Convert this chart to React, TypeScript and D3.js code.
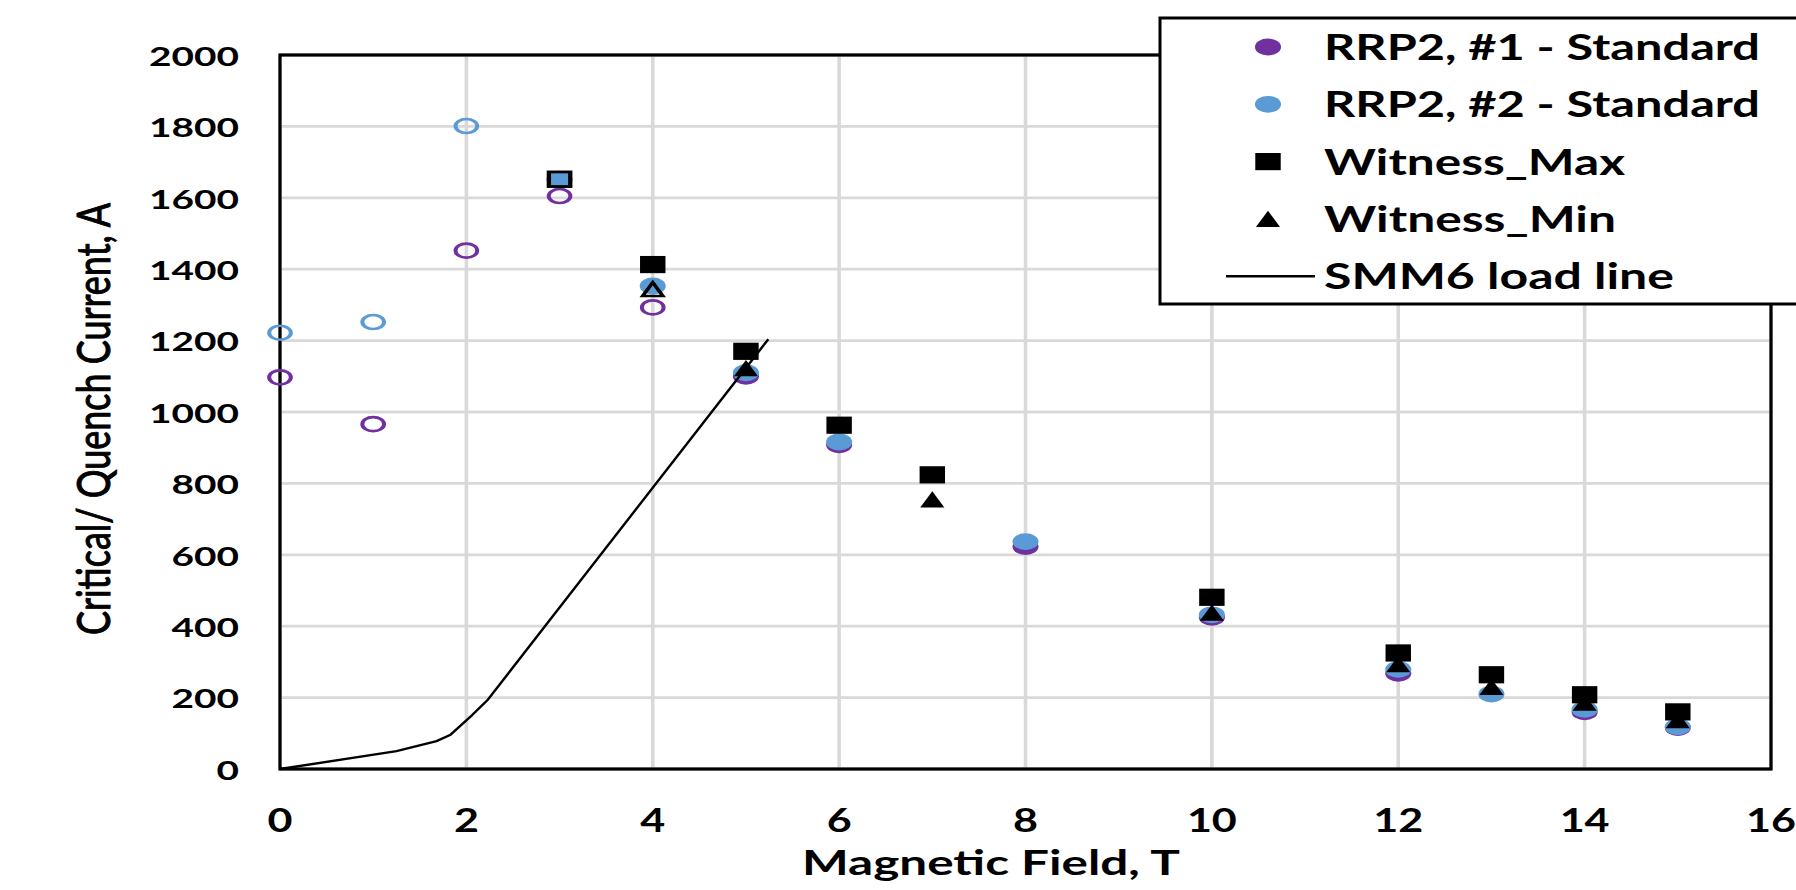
import React from "react";
import * as d3 from "d3";

// values (field in T, current in A)
const rrp1Field = [0, 1, 2, 3, 4, 5, 6, 8, 10, 12, 14, 15];
const rrp1Current = [1097, 966, 1452, 1605, 1293, 1100, 908, 623, 425, 268, 160, 116];
const rrp1Open = [true, true, true, true, true, false, false, false, false, false, false, false];

const rrp2Field = [0, 1, 2, 3, 4, 5, 6, 8, 10, 12, 13, 14, 15];
const rrp2Current = [1222, 1252, 1801, 1652, 1353, 1110, 916, 637, 432, 279, 210, 167, 118];
const rrp2Open = [true, true, true, false, false, false, false, false, false, false, false, false, false];

const maxField = [3, 4, 5, 6, 7, 10, 12, 13, 14, 15];
const maxCurrent = [1652, 1413, 1170, 963, 824, 481, 325, 264, 208, 160];
const maxOpen = [true, false, false, false, false, false, false, false, false, false];

const minField = [4, 5, 7, 10, 12, 13, 14, 15];
const minCurrent = [1344, 1123, 755, 438, 294, 230, 186, 137];
const minOpen = [true, false, false, false, false, false, false, false];

const loadField = [0, 1.25, 1.68, 1.83, 2.05, 2.23, 5.24];
const loadCurrent = [0, 50, 78, 96, 148, 194, 1204];

const xTicks = [0, 2, 4, 6, 8, 10, 12, 14, 16];
const yTicks = [0, 200, 400, 600, 800, 1000, 1200, 1400, 1600, 1800, 2000];

const legendLabels = [
  "RRP2, #1 - Standard",
  "RRP2, #2 - Standard",
  "Witness_Max",
  "Witness_Min",
  "SMM6 load line",
];
const legendWidths = [436, 436, 301, 292, 350];

const PURPLE = "#7030a0";
const BLUE = "#5b9bd5";
const GRID = "#d9d9d9";
const FONT = "Lato, 'Open Sans', sans-serif";
const SX = 1.55; // the original is stretched sideways

const W = 1796;
const H = 890;
const margin = { left: 280, right: 1771, top: 55, bottom: 769 };

type Shape = "circle" | "square" | "triangle";

const Marker = ({ shape, cx, cy, color, open }: { shape: Shape; cx: number; cy: number; color: string; open?: boolean }) => {
  const fill = open ? "none" : color;
  const stroke = open ? color : "none";
  const sw = open ? 2.6 : 0;
  let el;
  if (shape === "circle") {
    el = <circle r={open ? 7 : 8.4} fill={fill} stroke={stroke} strokeWidth={sw} />;
  } else if (shape === "square") {
    el = open ? (
      <rect x={-6.9} y={-7.3} width={13.8} height={14.6} fill="none" stroke={color} strokeWidth={2.8} />
    ) : (
      <rect x={-8.2} y={-8.6} width={16.4} height={17.2} fill={color} />
    );
  } else {
    el = open ? (
      <path d="M-6.5,6.8L0,-6.8L6.5,6.8Z" fill="none" stroke={color} strokeWidth={2.6} strokeLinejoin="miter" />
    ) : (
      <path d="M-7.8,8.1L0,-8.1L7.8,8.1Z" fill={color} />
    );
  }
  return <g transform={`translate(${cx},${cy}) scale(${SX},1)`}>{el}</g>;
};

export default function App() {
  const x = d3.scaleLinear().domain([0, 16]).range([margin.left, margin.right]);
  const y = d3.scaleLinear().domain([0, 2000]).range([margin.bottom, margin.top]);

  const line = d3
    .line<number>()
    .x((d, i) => x(loadField[i]))
    .y((d) => y(d));

  const series = [
    { field: rrp1Field, cur: rrp1Current, open: rrp1Open, shape: "circle" as Shape, color: PURPLE },
    { field: rrp2Field, cur: rrp2Current, open: rrp2Open, shape: "circle" as Shape, color: BLUE },
    { field: maxField, cur: maxCurrent, open: maxOpen, shape: "square" as Shape, color: "#000" },
    { field: minField, cur: minCurrent, open: minOpen, shape: "triangle" as Shape, color: "#000" },
  ];

  const legendX = 1160;
  const legendTop = 18;
  const rowY = (i: number) => 47 + i * 57.3;

  return (
    <svg
      width={W}
      height={H}
      style={{ position: "absolute", left: 0, top: 0, background: "#fff" }}
    >
      <rect width={W} height={H} fill="#fff" />

      {/* grid */}
      {yTicks.map((t) => (
        <line key={"gy" + t} x1={margin.left} x2={margin.right} y1={y(t)} y2={y(t)} stroke={GRID} strokeWidth={2.8} />
      ))}
      {xTicks.map((t) => (
        <line key={"gx" + t} x1={x(t)} x2={x(t)} y1={margin.top} y2={margin.bottom} stroke={GRID} strokeWidth={3.6} />
      ))}

      {/* plot border */}
      <rect
        x={margin.left}
        y={margin.top}
        width={margin.right - margin.left}
        height={margin.bottom - margin.top}
        fill="none"
        stroke="#000"
        strokeWidth={3.2}
      />

      {/* markers */}
      {series.map((s, si) =>
        s.field.map((f, i) => (
          <Marker key={si + "-" + i} shape={s.shape} cx={x(f)} cy={y(s.cur[i])} color={s.color} open={s.open[i]} />
        ))
      )}

      {/* load line */}
      <path d={line(loadCurrent) || ""} fill="none" stroke="#000" strokeWidth={2.4} />

      {/* y tick labels */}
      {yTicks.map((t) => {
        const label = String(t);
        const len = 22.5 * label.length;
        return (
          <text
            key={"yt" + t}
            x={239 - len}
            y={y(t) + 10.7}
            fontFamily={FONT}
            fontWeight={700}
            fontSize={27}
            textLength={len}
            lengthAdjust="spacingAndGlyphs"
          >
            {label}
          </text>
        );
      })}

      {/* x tick labels */}
      {xTicks.map((t) => {
        const label = String(t);
        const len = 25 * label.length;
        return (
          <text
            key={"xt" + t}
            x={x(t) - len / 2}
            y={832}
            fontFamily={FONT}
            fontWeight={700}
            fontSize={33}
            textLength={len}
            lengthAdjust="spacingAndGlyphs"
          >
            {label}
          </text>
        );
      })}

      {/* axis titles */}
      <text
        x={802}
        y={875}
        fontFamily={FONT}
        fontWeight={700}
        fontSize={35}
        textLength={378}
        lengthAdjust="spacingAndGlyphs"
      >
        Magnetic Field, T
      </text>
      <g transform={`translate(110,419) scale(1.5,1) rotate(-90)`}>
        <text
          x={-216}
          y={0}
          fontFamily={FONT}
          fontWeight={400}
          fontSize={31.5}
          stroke="#000"
          strokeWidth={0.7}
          textLength={432}
          lengthAdjust="spacingAndGlyphs"
        >
          Critical/ Quench Current, A
        </text>
      </g>

      {/* legend */}
      <rect x={legendX} y={legendTop} width={700} height={304 - legendTop} fill="#fff" stroke="#000" strokeWidth={3} />
      <Marker shape="circle" cx={1268} cy={rowY(0)} color={PURPLE} />
      <Marker shape="circle" cx={1268} cy={rowY(1)} color={BLUE} />
      <Marker shape="square" cx={1268} cy={rowY(2)} color="#000" />
      <Marker shape="triangle" cx={1268} cy={rowY(3)} color="#000" />
      <line x1={1226} x2={1315} y1={rowY(4)} y2={rowY(4)} stroke="#000" strokeWidth={2.6} />
      {legendLabels.map((l, i) => (
        <text
          key={l}
          x={1324}
          y={rowY(i) + 13}
          fontFamily={FONT}
          fontWeight={700}
          fontSize={36}
          textLength={legendWidths[i]}
          lengthAdjust="spacingAndGlyphs"
        >
          {l}
        </text>
      ))}
    </svg>
  );
}
